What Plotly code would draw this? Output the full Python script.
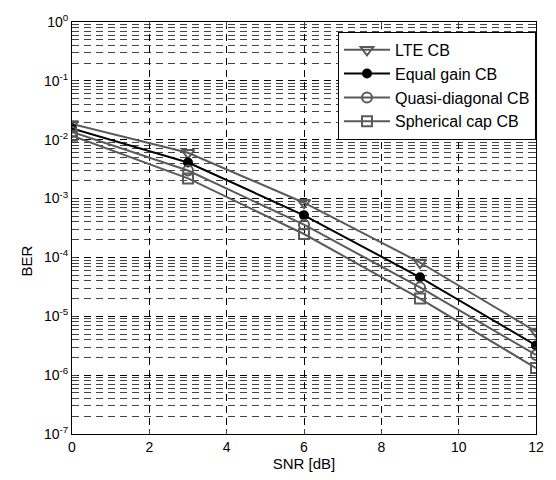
import plotly.graph_objects as go

snr = [0, 3, 6, 9, 12]
lte_cb = [1.85e-2, 6.0e-3, 8.5e-4, 8.2e-5, 5.5e-6]
equal_gain_cb = [1.55e-2, 4.1e-3, 5.2e-4, 4.6e-5, 3.2e-6]
quasi_diag_cb = [1.35e-2, 3.0e-3, 3.6e-4, 3.1e-5, 2.2e-6]
spherical_cb = [1.17e-2, 2.2e-3, 2.5e-4, 2.0e-5, 1.32e-6]

y_tickvals = [1e-7, 1e-6, 1e-5, 1e-4, 1e-3, 1e-2, 1e-1, 1]
y_ticktext = ["10<sup>-7</sup>", "10<sup>-6</sup>", "10<sup>-5</sup>", "10<sup>-4</sup>",
              "10<sup>-3</sup>", "10<sup>-2</sup>", "10<sup>-1</sup>", "10<sup>0</sup>"]
x_tickvals = [0, 2, 4, 6, 8, 10, 12]

series = [
    ("LTE CB", lte_cb, "#5a5a5a", "triangle-down-open", 11),
    ("Equal gain CB", equal_gain_cb, "#000000", "circle", 8),
    ("Quasi-diagonal CB", quasi_diag_cb, "#5a5a5a", "circle-open", 10),
    ("Spherical cap CB", spherical_cb, "#5a5a5a", "square-open", 10),
]

fig = go.Figure()
for i, (name, vals, col, sym, sz) in enumerate(series):
    fig.add_trace(go.Scatter(
        x=snr, y=vals, name=name, mode="lines+markers", legendgroup=f"g{i}",
        line=dict(color=col, width=2),
        marker=dict(symbol=sym, size=sz, color=col, line=dict(color=col, width=2)),
    ))

font = "Liberation Sans, Arial, sans-serif"
fig.update_layout(
    width=556, height=480,
    margin=dict(l=72, r=16, t=19, b=43),
    plot_bgcolor="white", paper_bgcolor="white",
    font=dict(family=font, size=14, color="black"),
    showlegend=True,
    legend=dict(x=1.0, xanchor="right", y=0.976, yanchor="top",
                bgcolor="white", bordercolor="black", borderwidth=1,
                font=dict(size=16, family=font), tracegroupgap=0,
                itemwidth=46),
    annotations=[dict(text="BER", x=-0.098, y=0.42, xref="paper", yref="paper",
                      textangle=-90, showarrow=False, font=dict(size=15),
                      xanchor="center", yanchor="middle")],
)
fig.update_xaxes(
    range=[0, 12], tickvals=x_tickvals, ticks="inside", ticklen=5,
    showline=True, linecolor="black", linewidth=1, mirror="ticks",
    showgrid=True, gridcolor="black", gridwidth=1, griddash="7px,5px",
    zeroline=False, tickfont=dict(size=14),
    title=dict(text="SNR [dB]", standoff=3, font=dict(size=15)),
)
fig.update_yaxes(
    type="log", range=[-7, 0], tickvals=y_tickvals, ticktext=y_ticktext,
    ticks="inside", ticklen=5, tickfont=dict(size=14),
    showline=True, linecolor="black", linewidth=1, mirror="ticks",
    showgrid=True, gridcolor="black", gridwidth=1, griddash="7px,5px",
    minor=dict(dtick="D1", ticks="inside", ticklen=3, showgrid=True,
               gridcolor="#444444", gridwidth=1, griddash="7px,5px"),
    zeroline=False,
)

fig.write_html(
    "out.html",
    config={"displayModeBar": False},
    post_script="document.body.style.margin='0';document.body.style.overflow='hidden';",
)
